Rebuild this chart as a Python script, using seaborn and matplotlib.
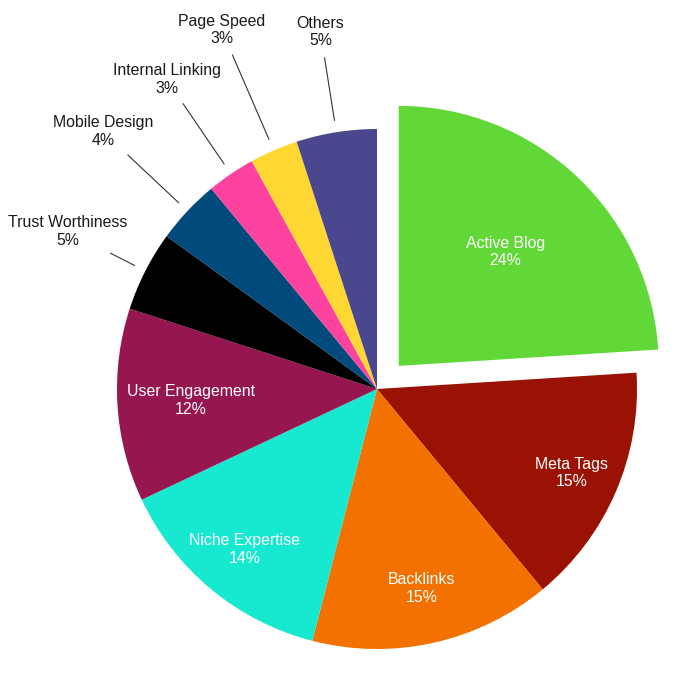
import numpy as np
import matplotlib
matplotlib.use("Agg")
import matplotlib.pyplot as plt
import seaborn as sns

categories = ["Active Blog", "Meta Tags", "Backlinks", "Niche Expertise", "User Engagement",
              "Trust Worthiness", "Mobile Design", "Internal Linking", "Page Speed", "Others"]
values = [24, 15, 15, 14, 12, 5, 4, 3, 3, 5]
colors = ["#61D838", "#9A1203", "#F27100", "#17E8D0", "#96164F",
          "#000000", "#014B7C", "#FE42A0", "#FFD733", "#4B478E"]

# label placement (style): inside labels -> radius fraction; outside labels -> (line end, text radius)
inside = {"Active Blog": 0.60, "Meta Tags": 0.815, "Backlinks": 0.785,
          "Niche Expertise": 0.80, "User Engagement": 0.717}
outside = {"Trust Worthiness": (1.15, 1.335), "Mobile Design": (1.315, 1.445),
           "Internal Linking": (1.327, 1.438), "Page Speed": (1.40, 1.504),
           "Others": (1.29, 1.39)}

sns.set_style("white")
plt.rcParams['font.family'] = ['Liberation Sans', 'DejaVu Sans']

fig = plt.figure(figsize=(6.75, 6.75), dpi=100)
ax = fig.add_axes([0, 0, 1, 1])
palette = sns.color_palette(colors)
explode = [0.122 if c == "Active Blog" else 0 for c in categories]

wedges, _ = ax.pie(values, colors=palette, startangle=90, counterclock=False,
                   explode=explode, radius=1.0, wedgeprops=dict(linewidth=0))

fs = 11.4
for w, cat, v in zip(wedges, categories, values):
    mid = np.deg2rad((w.theta1 + w.theta2) / 2)
    cx, cy = w.center
    dx, dy = np.cos(mid), np.sin(mid)
    txt = f"{cat}\n{v}%"
    if cat in inside:
        r = inside[cat]
        ax.text(cx + r * dx, cy + r * dy, txt, ha="center", va="center", color="white",
                fontsize=fs, linespacing=1.22)
    else:
        lr, tr = outside[cat]
        ax.plot([cx + 1.046 * dx, cx + lr * dx], [cy + 1.046 * dy, cy + lr * dy],
                color="#333333", lw=0.8)
        ax.text(cx + tr * dx, cy + tr * dy, txt, ha="center", va="center", color="#1a1a1a",
                fontsize=fs, linespacing=1.22)

ax.set_xlim(-377 / 260, (675 - 377) / 260)
ax.set_ylim(-(675 - 389) / 260, 389 / 260)
ax.set_aspect("equal")
ax.axis("off")
fig.savefig("out.png", dpi=100)
